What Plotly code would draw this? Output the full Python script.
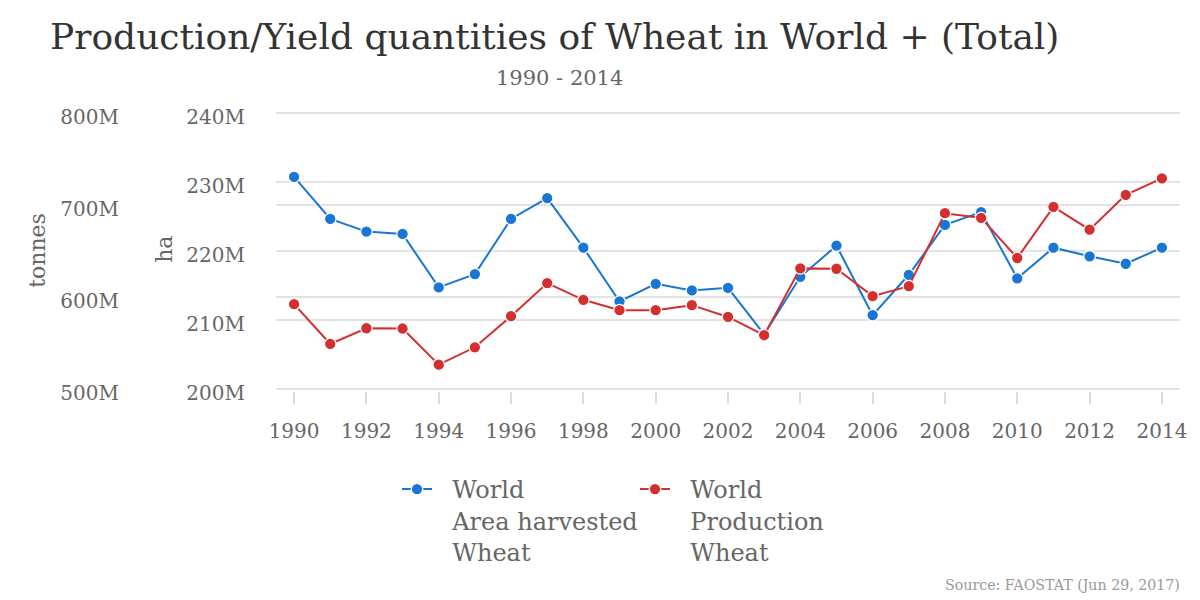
import plotly.graph_objects as go

years = list(range(1990, 2015))
area_harvested_mha = [230.76, 224.65, 222.81, 222.47, 214.72, 216.65, 224.65, 227.67, 220.48, 212.68,
                      215.24, 214.28, 214.66, 207.93, 216.26, 220.77, 210.69, 216.55, 223.78, 225.63,
                      216.03, 220.48, 219.23, 218.15, 220.48]
production_mt = [592.2, 548.9, 566.0, 565.7, 526.4, 545.3, 579.1, 615.1, 596.9, 585.6,
                 585.6, 591.1, 578.3, 558.4, 631.1, 630.7, 600.9, 611.8, 691.1, 686.0,
                 642.4, 698.0, 673.2, 711.1, 728.9]
ha_ticks = [200, 210, 220, 230, 240]
ha_labels = ["200M", "210M", "220M", "230M", "240M"]
tonnes_ticks = [500, 600, 700, 800]
tonnes_labels = ["500M", "600M", "700M", "800M"]
x_ticks = list(range(1990, 2015, 2))
series_names = ["World<br>Area harvested<br>Wheat", "World<br>Production<br>Wheat"]

FONT = "DejaVu Serif"
BLUE = "#1976d2"
RED = "#d32f2f"
GREY = "#666666"

W, H = 1200, 600
OFF = 8  # page body offset compensation
# plot area in screen pixels
SL, SR, ST, SB = 276, 1180, 111.2, 391.1
ML, MR, MT, MB = 0, W - (SR - OFF), ST - OFF, H - (SB - OFF)
PW = W - ML - MR
PH = H - MT - MB

def px_x(sx):
    return (sx - OFF - ML) / PW

def px_y(sy):
    return (H - MB - (sy - OFF)) / PH

def pad(name):
    return "<br>".join("\u00a0\u00a0" + part for part in name.split("<br>"))

fig = go.Figure()
fig.add_trace(go.Scatter(
    x=years, y=area_harvested_mha, name=pad(series_names[0]),
    mode="lines+markers", yaxis="y",
    line=dict(color=BLUE, width=2),
    marker=dict(color=BLUE, size=11.5, line=dict(color="white", width=1.2)),
))
fig.add_trace(go.Scatter(
    x=years, y=production_mt, name=pad(series_names[1]),
    mode="lines+markers", yaxis="y2",
    line=dict(color=RED, width=2),
    marker=dict(color=RED, size=11.5, line=dict(color="white", width=1.2)),
))

fig.update_layout(
    width=W, height=H,
    margin=dict(l=ML, r=MR, t=MT, b=MB, autoexpand=False),
    paper_bgcolor="white", plot_bgcolor="white",
    font=dict(family=FONT, color=GREY, size=20),
    title=dict(text="Production/Yield quantities of Wheat in World + (Total)",
               x=(50 - OFF) / W, xanchor="left", xref="container",
               y=1 - 28 / H, yanchor="middle", yref="container",
               font=dict(family=FONT, size=36, color="#333333")),
    showlegend=True,
    legend=dict(orientation="h", x=px_x(397), xanchor="left", y=px_y(467), yanchor="top",
                font=dict(family=FONT, size=24, color=GREY), valign="top",
                entrywidth=193, entrywidthmode="pixels", itemwidth=30),
    xaxis=dict(domain=[px_x(SL), 1], range=[1989.5, 2014.5],
               tickvals=x_ticks, ticks="outside", ticklen=12, tickwidth=2, tickcolor="#dddddd",
               showgrid=False, zeroline=False, showline=False, automargin=False,
               ticklabelstandoff=10,
               tickfont=dict(size=20, color=GREY)),
    yaxis=dict(range=[199.7, 240.3], tickvals=ha_ticks, ticktext=ha_labels,
               anchor="free", position=px_x(245), side="left", automargin=False,
               showgrid=True, gridcolor="#e3e3e3", gridwidth=1.5,
               zeroline=False, showline=False, ticks="", ticklabelshift=4,
               tickfont=dict(size=20, color=GREY)),
    yaxis2=dict(range=[497.75, 802.25], tickvals=tonnes_ticks, ticktext=tonnes_labels,
                overlaying="y", anchor="free", position=px_x(119), side="left", automargin=False,
                showgrid=True, gridcolor="#e3e3e3", gridwidth=1.5,
                zeroline=False, showline=False, ticks="", ticklabelshift=4,
                tickfont=dict(size=20, color=GREY)),
    annotations=[
        dict(text="1990 - 2014", x=px_x(559), y=px_y(78), xref="paper", yref="paper",
             showarrow=False, xanchor="center", yanchor="middle",
             font=dict(family=FONT, size=21, color=GREY)),
        dict(text="tonnes", x=px_x(38), y=px_y(251), xref="paper", yref="paper",
             showarrow=False, textangle=-90, xanchor="center", yanchor="middle",
             font=dict(family=FONT, size=22, color=GREY)),
        dict(text="ha", x=px_x(165), y=px_y(250), xref="paper", yref="paper",
             showarrow=False, textangle=-90, xanchor="center", yanchor="middle",
             font=dict(family=FONT, size=22, color=GREY)),
        dict(text="Source: FAOSTAT (Jun 29, 2017)", x=px_x(1182), y=px_y(585),
             xref="paper", yref="paper", showarrow=False, xanchor="right", yanchor="middle",
             font=dict(family=FONT, size=14.2, color="#999999")),
    ],
)

fig.write_html("out.html")
